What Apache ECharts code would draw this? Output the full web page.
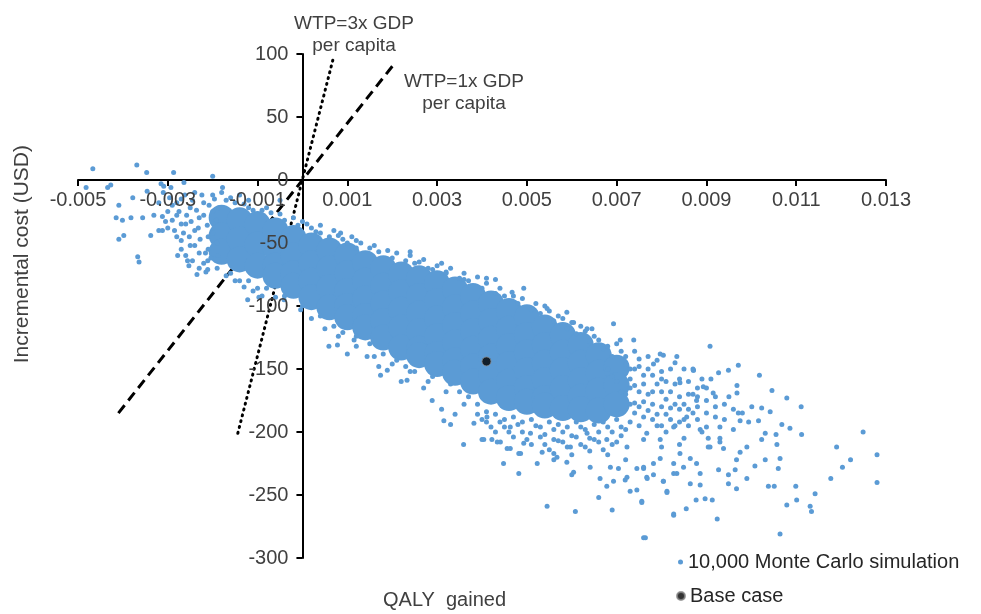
<!DOCTYPE html>
<html>
<head>
<meta charset="utf-8">
<script src="https://cdn.jsdelivr.net/npm/echarts@6/dist/echarts.min.js"></script>
<style>
  html, body { margin: 0; padding: 0; background: #fff; }
  #chart { width: 981px; height: 614px; }
</style>
</head>
<body>
<div id="chart"></div>
<script>
// dense core of the Monte Carlo cloud
const cloudCore = [
  [-0.0018,-30],[-0.0018,-44],[-0.0018,-57],
  [-0.0014,-32],[-0.0014,-47],[-0.0014,-63],
  [-0.0010,-35],[-0.0010,-51],[-0.0010,-68],
  [-0.0006,-40],[-0.0006,-54],[-0.0006,-68],[-0.0006,-76],
  [-0.0002,-46],[-0.0002,-60],[-0.0002,-74],[-0.0002,-84],
  [0.0002,-52],[0.0002,-66],[0.0002,-80],[0.0002,-93],
  [0.0006,-56],[0.0006,-70],[0.0006,-85],[0.0006,-101],
  [0.0010,-60],[0.0010,-74],[0.0010,-88],[0.0010,-100],[0.0010,-109],
  [0.0014,-66],[0.0014,-80],[0.0014,-94],[0.0014,-108],[0.0014,-117],
  [0.0018,-70],[0.0018,-84],[0.0018,-98],[0.0018,-112],[0.0018,-125],
  [0.0022,-75],[0.0022,-89],[0.0022,-103],[0.0022,-117],[0.0022,-133],
  [0.0026,-78],[0.0026,-92],[0.0026,-106],[0.0026,-120],[0.0026,-134],[0.0026,-139],
  [0.0030,-82],[0.0030,-96],[0.0030,-110],[0.0030,-124],[0.0030,-138],[0.0030,-146],
  [0.0034,-87],[0.0034,-101],[0.0034,-115],[0.0034,-129],[0.0034,-143],[0.0034,-153],
  [0.0038,-92],[0.0038,-106],[0.0038,-120],[0.0038,-134],[0.0038,-148],[0.0038,-160],
  [0.0042,-98],[0.0042,-112],[0.0042,-126],[0.0042,-140],[0.0042,-154],[0.0042,-168],
  [0.0046,-104],[0.0046,-118],[0.0046,-132],[0.0046,-146],[0.0046,-160],[0.0046,-173],
  [0.0050,-109],[0.0050,-123],[0.0050,-137],[0.0050,-151],[0.0050,-165],[0.0050,-176],
  [0.0054,-117],[0.0054,-131],[0.0054,-145],[0.0054,-159],[0.0054,-173],[0.0054,-179],
  [0.0058,-123],[0.0058,-137],[0.0058,-151],[0.0058,-165],[0.0058,-181],
  [0.0062,-131],[0.0062,-145],[0.0062,-159],[0.0062,-172],[0.0062,-182],
  [0.0066,-139],[0.0066,-153],[0.0066,-167],[0.0066,-183],
  [0.0070,-149],[0.0070,-163],[0.0070,-178]
];

// scattered simulations around the core
const cloudSparse = [
  // left tail
  [-0.00467,9],[-0.00369,12],[-0.00347,6],[-0.00287,6],[-0.00200,3],[-0.00482,-6],
  [-0.00434,-6],[-0.00427,-4],[-0.00409,-20],[-0.00378,-14],[-0.00415,-30],[-0.00401,-32],
  [-0.00382,-30],[-0.00356,-30],[-0.00331,-28],[-0.00312,-29],[-0.00398,-44],[-0.00409,-47],
  [-0.00338,-44],[-0.00320,-40],[-0.00312,-40],[-0.00367,-61],[-0.00364,-65],[-0.00278,-60],
  [-0.00256,-64],[-0.00253,-68],[-0.00235,-75],[-0.00211,-64],[-0.00178,-6],[-0.00315,-3],
  [-0.00309,-5],[-0.00293,-6],[-0.00264,-2],[-0.00346,-9],
  [-0.0029,-20],[-0.0028,-28],[-0.0027,-15],[-0.0026,-35],[-0.0025,-22],[-0.0024,-40],
  [-0.0023,-30],[-0.0022,-18],[-0.0021,-45],[-0.0020,-25],[-0.0019,-50],[-0.0030,-38],
  [-0.0028,-45],[-0.0025,-52],[-0.0023,-58],[-0.0021,-55],[-0.0020,-12],[-0.0018,-10],
  [-0.0016,-14],[-0.0014,-12],[-0.0012,-16],[-0.0032,-18],[-0.0031,-10],[-0.0027,-48],
  [-0.0024,-10],[-0.0022,-66],[-0.0019,-70],[-0.0017,-76],[-0.0015,-80],[-0.0013,-85],
  [-0.0011,-88],[-0.0009,-92],[-0.0013,-19],[-0.0011,-24],[-0.0005,-16],[-0.0008,-22],
  [-0.0005,-27],[-0.0002,-30],[0.0000,-33],
  [-0.00290,-32],[-0.00285,-40],[-0.00280,-18],[-0.00275,-25],[-0.00270,-35],[-0.00265,-42],
  [-0.00262,-12],[-0.00258,-28],[-0.00252,-45],[-0.00248,-33],[-0.00245,-16],[-0.00240,-52],
  [-0.00236,-24],[-0.00232,-38],[-0.00228,-47],[-0.00224,-12],[-0.00220,-28],[-0.00216,-58],
  [-0.00212,-36],[-0.00208,-20],[-0.00204,-62],[-0.00200,-42],[-0.00196,-15],[-0.00192,-32],
  [-0.00188,-60],[-0.00186,-22],[-0.00300,-25],[-0.00296,-14],[-0.00305,-33],[-0.00270,-55],
  [-0.00260,-60],[-0.00245,-64],[-0.00230,-70],[-0.00215,-73],
  // upper edge
  [0.0003,-41],[0.0006,-45],[0.00085,-42],[0.0010,-50],[0.0012,-54],[0.0024,-57],
  [0.0026,-65],[0.0029,-71],[0.0032,-73],[0.0036,-79],[0.0041,-78],[0.0043,-79],
  [0.0002,-38],[0.0004,-36],[0.0007,-40],[0.0011,-45],[0.0013,-50],[0.0016,-52],
  [0.0019,-56],[0.0021,-58],[0.0024,-60],[0.0027,-63],[0.0031,-66],[0.0033,-70],
  [0.0036,-74],[0.0039,-77],[0.0041,-82],[0.0044,-86],[0.0047,-92],[0.0049,-94],
  [0.0052,-98],[0.0055,-104],[0.0057,-108],[0.0060,-113],[0.0063,-120],[0.0065,-124],
  [0.0068,-132],[0.0071,-136],[0.0075,-142],
  [0.00467,-89],[0.00493,-86],[0.00545,-102],[0.00589,-105],[0.00604,-113],[0.00634,-118],
  [0.00645,-118],[0.00693,-114],[0.00708,-127],[0.00738,-127],[0.00797,-138],[0.00804,-139],
  [0.00834,-140],[0.00871,-151],[0.00908,-132],[0.00782,-146],[0.00841,-161],[0.00893,-164],
  [0.00915,-169],[0.00878,-175],
  [-0.0017,-16],[-0.0015,-18],[-0.0012,-22],[-0.0009,-24],[-0.0007,-26],[-0.0004,-32],
  [-0.0001,-36],[0.0001,-35],[0.0004,-42],[0.0008,-44],[0.0009,-47],[0.0012,-48],
  [0.0015,-54],[0.0017,-57],[0.0020,-62],[0.0023,-64],[0.0025,-66],[0.0028,-70],
  [0.0030,-68],[0.0032,-74],[0.0035,-78],[0.0037,-80],[0.0040,-86],[0.0043,-90],
  [0.0045,-92],[0.0048,-98],[0.0051,-103],[0.0053,-106],[0.0056,-112],[0.0059,-118],
  [0.0061,-122],[0.0064,-128],[0.0067,-134],[0.0069,-140],[0.0072,-146],[0.0073,-150],
  [0.0077,-150],[0.0080,-152],
  [0.0070,-130],[0.0074,-136],[0.0066,-127],[0.0062,-116],[0.0058,-110],[0.0054,-100],
  // lower edge, left part
  [-0.00211,-71],[-0.00122,-95],[-0.00004,-103],[0.00059,-132],[0.00078,-131],[0.00115,-127],
  [0.00174,-155],[0.00189,-151],[0.00233,-159],[0.00144,-140],[-0.00041,-95],[-0.00097,-93],
  [0.0002,-110],[0.0005,-118],[0.0008,-124],[0.0012,-132],[0.0016,-140],[0.0020,-146],
  [0.0024,-152],[0.0028,-160],[0.0032,-168],[0.0036,-178],[0.0027,-165],[0.0031,-182],
  [0.0034,-186],[0.0022,-160],[0.0017,-148],[-0.0006,-93],[-0.0010,-86],[-0.0014,-80],
  [0.0010,-138],
  [-0.0016,-74],[-0.0012,-80],[-0.0008,-86],[-0.0004,-92],[0.0000,-100],[0.0004,-108],
  [0.0007,-116],[0.0009,-121],[0.0012,-124],[0.0015,-130],[0.0018,-138],[0.0021,-143],
  [0.0023,-148],[0.0025,-152],[0.0029,-156],[0.0033,-162],[0.0035,-168],[0.0037,-172],
  [0.0039,-178],[0.0041,-184],[0.0043,-186],[0.0045,-190],[0.0047,-188],[0.0049,-192],
  [0.0051,-190],[0.0053,-196],[0.0055,-192],[0.0057,-194],[0.0059,-196],[0.0061,-192],
  [0.0063,-198],[0.0065,-194],[0.0067,-192],[0.0069,-200],[0.0071,-196],[0.0073,-192],
  // lower edge, middle
  [0.00359,-210],[0.00315,-191],[0.00289,-175],[0.00404,-206],[0.00434,-208],[0.00456,-213],
  [0.00486,-217],[0.00382,-193],[0.00411,-188],[0.00463,-196],[0.00508,-201],[0.00560,-206],
  [0.00597,-212],[0.00634,-201],[0.00678,-206],[0.00723,-212],[0.00767,-201],[0.00797,-206],
  [0.00827,-196],[0.00856,-188],[0.00886,-198],[0.00908,-212],
  [0.0068,-150],[0.0070,-160],[0.0072,-140],[0.0072,-170],[0.0074,-150],[0.0074,-185],
  [0.0076,-162],[0.0076,-176],[0.0078,-155],[0.0078,-190],[0.0080,-168],[0.0080,-180],
  [0.0082,-150],[0.0082,-190],[0.0084,-172],[0.0084,-182],[0.0086,-160],[0.0086,-195],
  [0.0088,-180],[0.0090,-185],[0.0075,-195],[0.0070,-190],[0.0072,-198],[0.0068,-196],
  [0.0066,-200],[0.0064,-205],[0.0062,-196],[0.0060,-203],[0.0058,-200],[0.0056,-198],
  [0.0054,-202],[0.0052,-195],[0.0048,-194],[0.0046,-200],[0.0044,-192],[0.0042,-196],
  [0.0040,-190],[0.0079,-143],[0.0081,-160],[0.0083,-178],[0.0085,-150],[0.0087,-170],
  [0.0089,-158],
  [0.0069,-156],[0.0071,-168],[0.0071,-185],[0.0073,-158],[0.0073,-178],[0.0075,-168],
  [0.0075,-148],[0.0077,-183],[0.0077,-170],[0.0079,-162],[0.0079,-195],[0.0081,-174],
  [0.0081,-186],[0.0083,-162],[0.0083,-195],[0.0085,-178],[0.0085,-190],[0.0087,-185],
  [0.0088,-165],[0.0090,-175],[0.0092,-180],[0.0094,-190],[0.0096,-198],[0.0093,-205],
  [0.0095,-172],[0.0098,-185],
  [0.0072,-153],[0.0074,-163],[0.0074,-177],[0.0076,-155],[0.0076,-188],[0.0078,-168],
  [0.0078,-178],[0.0080,-158],[0.0080,-195],[0.0082,-168],[0.0082,-181],[0.0084,-158],
  [0.0084,-192],[0.0086,-170],[0.0086,-182],[0.0088,-172],[0.0088,-190],[0.0090,-165],
  [0.0090,-196],[0.0092,-172],[0.0092,-188],[0.0094,-178],[0.0096,-182],[0.0091,-158],
  [0.0087,-150],[0.0083,-145],[0.0077,-140],[0.0073,-165],[0.0075,-180],[0.0079,-186],
  [0.0081,-200],[0.0085,-205],[0.0089,-200],[0.0093,-196],[0.0071,-203],[0.0076,-206],
  [0.0080,-212],[0.0084,-210],[0.0070,-208],[0.0066,-208],[0.0062,-210],[0.0058,-208],
  [0.0054,-210],[0.0050,-206],[0.0064,-215],[0.0068,-218],[0.0072,-222],[0.0060,-218],
  [0.0056,-222],
  [0.0039,-186],[0.0041,-192],[0.0043,-200],[0.0045,-196],[0.0047,-204],[0.0049,-200],
  [0.0051,-210],[0.0053,-204],[0.0055,-214],[0.0057,-207],[0.0059,-212],[0.0061,-204],
  [0.0063,-212],[0.0065,-206],[0.0067,-214],[0.0069,-210],
  // bottom spread
  [0.00448,-225],[0.00482,-233],[0.00523,-225],[0.00545,-259],[0.00608,-263],[0.00690,-262],
  [0.00760,-284],[0.00827,-266],[0.00660,-252],[0.00756,-255],[0.00604,-232],[0.00600,-234],
  [0.00641,-228],[0.00663,-237],[0.00678,-243],[0.00693,-239],[0.00723,-236],[0.00719,-238],
  [0.00730,-247],[0.00745,-246],[0.00767,-236],[0.00782,-234],[0.00804,-239],[0.00812,-247],
  [0.00686,-228],[0.00704,-229],[0.00745,-229],[0.00760,-229],[0.00589,-224],[0.00567,-220],
  [0.00463,-213],[0.00482,-217],[0.00493,-209],[0.00534,-216],[0.00560,-217],[0.00400,-206],
  [0.00422,-206],[0.00441,-208],[0.00827,-225],[0.00834,-233],[0.00330,-194],
  // right tail
  [0.00971,-147],[0.00949,-151],[0.00927,-153],[0.00871,-151],[0.01018,-155],[0.01046,-167],
  [0.01079,-173],[0.01111,-180],[0.00968,-163],[0.00968,-169],[0.01001,-180],[0.01023,-181],
  [0.01042,-184],[0.00971,-185],[0.00975,-191],[0.00994,-192],[0.01016,-191],[0.01068,-194],
  [0.01086,-197],[0.01112,-202],[0.01249,-200],[0.01190,-212],[0.01221,-222],[0.01203,-228],
  [0.01280,-218],[0.01280,-240],[0.01177,-237],[0.01142,-249],[0.01131,-259],[0.01134,-263],
  [0.01099,-243],[0.01101,-254],[0.01079,-258],[0.01064,-281],[0.01051,-243],[0.01038,-243],
  [0.01064,-221],[0.01060,-229],[0.01031,-222],[0.01008,-227],[0.01057,-210],[0.01055,-202],
  [0.01031,-201],[0.01023,-206],[0.00990,-212],[0.00975,-216],[0.00967,-222],[0.00964,-230],
  [0.00949,-234],[0.00967,-245],[0.00990,-237],[0.00924,-269],[0.00827,-265],[0.00855,-261],
  [0.00913,-254],[0.00897,-253],[0.00877,-254],[0.00812,-248],[0.00756,-256],[0.00886,-242],
  [0.00864,-241],[0.00927,-230],[0.00949,-241],[0.00938,-213],[0.00930,-208],[0.00904,-205],
  [0.00904,-212],[0.00849,-228],[0.00827,-233],[0.00804,-239],[0.00768,-237],[0.00886,-233],
  [0.00878,-225],[0.00797,-221],[0.00782,-225],[0.00760,-228],[0.00841,-217],[0.00864,-221],
  [0.00764,-284]
];

const baseCase = [[0.0041, -144]];

// willingness-to-pay threshold lines (end points)
const wtp1xLine = [[-0.0041, -185], [0.00204, 92]];
const wtp3xLine = [[-0.00144, -201], [0.00069, 97]];

const xMin = -0.005, xMax = 0.013, xStep = 0.002;
const yMin = -300, yMax = 100, yStep = 50;

const BLUE = '#5B9BD5';
const TEXT = '#404040';
const FONT = 'Liberation Sans, Arial, sans-serif';

const GRID = { left: 78, right: 95, top: 54, bottom: 56 };
const W = 981, H = 614;

// axes cross at (0, 0): shift each axis from the grid edge to the zero line
const plotW = W - GRID.left - GRID.right;
const plotH = H - GRID.top - GRID.bottom;
const xZeroShift = -plotW * (0 - xMin) / (xMax - xMin);
const yZeroShift = -plotH * (0 - yMin) / (yMax - yMin);

const axisLineStyle = { color: '#000', width: 2 };

// each axis twice: the line sits under the cloud, the labels over it
const xBase = {
  type: 'value', position: 'bottom', offset: yZeroShift,
  min: xMin, max: xMax, interval: xStep, splitLine: { show: false }
};
const yBase = {
  type: 'value', position: 'left', offset: xZeroShift,
  min: yMin, max: yMax, interval: yStep, splitLine: { show: false }
};

const chart = echarts.init(document.getElementById('chart'));

const option = {
  animation: false,
  textStyle: { fontFamily: FONT },
  grid: GRID,
  xAxis: [
    Object.assign({}, xBase, {
      z: 3,
      axisLine: { show: false, onZero: false },
      axisTick: { show: false },
      axisLabel: { fontSize: 20, color: TEXT, margin: 10, fontFamily: FONT }
    }),
    Object.assign({}, xBase, {
      z: 0,
      axisLine: { onZero: false, lineStyle: axisLineStyle },
      axisTick: { length: 6, lineStyle: axisLineStyle },
      axisLabel: { show: false }
    })
  ],
  yAxis: [
    Object.assign({}, yBase, {
      z: 3,
      axisLine: { show: false, onZero: false },
      axisTick: { show: false },
      axisLabel: { fontSize: 20, color: TEXT, margin: 14, fontFamily: FONT }
    }),
    Object.assign({}, yBase, {
      z: 0,
      axisLine: { onZero: false, lineStyle: axisLineStyle },
      axisTick: { length: 6, lineStyle: axisLineStyle },
      axisLabel: { show: false }
    })
  ],
  legend: [
    {
      data: ['10,000 Monte Carlo simulation'],
      orient: 'vertical',
      left: 673,
      top: 547,
      icon: 'circle',
      itemWidth: 5,
      itemHeight: 5,
      textStyle: { fontSize: 20, color: '#262626', fontFamily: FONT }
    },
    {
      data: ['Base case'],
      orient: 'vertical',
      left: 671,
      top: 581,
      icon: 'circle',
      itemWidth: 8,
      itemHeight: 8,
      textStyle: { fontSize: 20, color: '#262626', fontFamily: FONT }
    }
  ],
  graphic: [
    {
      type: 'text', left: 12, top: 145, rotation: Math.PI / 2,
      style: { text: 'Incremental cost (USD)', font: '21px ' + FONT, fill: TEXT }
    },
    {
      type: 'text', left: 383, top: 590,
      style: { text: 'QALY  gained', font: '20px ' + FONT, fill: TEXT }
    },
    {
      type: 'text', x: 354, y: 13,
      style: { text: 'WTP=3x GDP\nper capita', font: '19px ' + FONT, fill: TEXT,
               lineHeight: 22, align: 'center' }
    },
    {
      type: 'text', x: 464, y: 71,
      style: { text: 'WTP=1x GDP\nper capita', font: '19px ' + FONT, fill: TEXT,
               lineHeight: 22, align: 'center' }
    }
  ],
  series: [
    {
      name: '10,000 Monte Carlo simulation',
      type: 'scatter',
      symbolSize: 26,
      itemStyle: { color: BLUE, opacity: 1 },
      data: cloudCore,
      z: 2
    },
    {
      name: '10,000 Monte Carlo simulation',
      type: 'scatter',
      symbolSize: 5,
      itemStyle: { color: BLUE, opacity: 1 },
      data: cloudSparse,
      z: 2
    },
    {
      name: 'WTP 1x',
      type: 'line',
      data: wtp1xLine,
      symbol: 'none',
      lineStyle: { color: '#000', width: 3, type: [10, 6] },
      z: 1
    },
    {
      name: 'WTP 3x',
      type: 'line',
      data: wtp3xLine,
      symbol: 'none',
      lineStyle: { color: '#000', width: 3, type: [1, 5], cap: 'round' },
      z: 1
    },
    {
      name: 'Base case',
      type: 'scatter',
      symbolSize: 9,
      itemStyle: { color: '#000', borderColor: '#888', borderWidth: 1 },
      data: baseCase,
      z: 5
    }
  ]
};

chart.setOption(option);
</script>
</body>
</html>
